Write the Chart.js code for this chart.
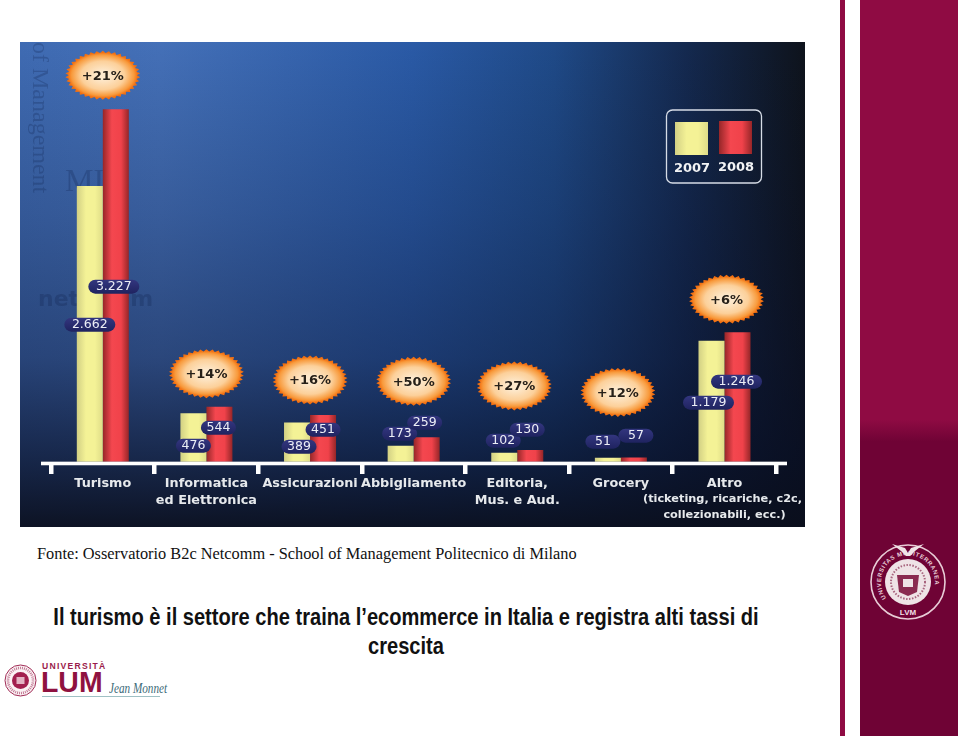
<!DOCTYPE html>
<html>
<head>
<meta charset="utf-8">
<title>Turismo e ecommerce in Italia</title>
<script src="https://cdn.jsdelivr.net/npm/chart.js@4"></script>
<style>
  html, body { margin: 0; padding: 0; background: #fff; }
  body { position: relative; width: 960px; height: 736px; overflow: hidden; }
  #box { position: absolute; left: 20px; top: 42px; width: 785px; height: 485px; }
  #grafico { filter: blur(.4px); }
  .abs { position: absolute; white-space: nowrap; }
  #fonte { left: 37px; top: 544px; font: 16.33px "Liberation Serif", serif; color: #111; }
  #titolo, #titolo2 { left: 0; width: 812px; text-align: center; font: bold 23px "Liberation Sans", sans-serif; color: #111; transform: scaleX(.873); transform-origin: 406px 0; }
  #titolo { top: 604px; }
  #titolo2 { top: 633px; }
  #strip { left: 840px; top: 0; width: 5px; height: 736px; background: #8f0b43; }
  #panel { left: 860px; top: 0; width: 98px; height: 736px; background: linear-gradient(#8f0b43 0, #8f0b43 57%, #6f0335 60%, #6f0335 100%); }
  #univ { left: 42px; top: 661px; font: bold 8.6px "Liberation Sans", sans-serif; letter-spacing: 1.25px; color: #9a1b4b; }
  #lum { left: 41px; top: 666px; font: bold 29px "Liberation Sans", sans-serif; color: #8f1240; transform: scaleX(.98); transform-origin: 0 0; }
  #jean { left: 109px; top: 681px; font: italic 14px "Liberation Serif", serif; color: #3c6a78; transform: scaleX(.8); transform-origin: 0 0; }
  #riga { left: 42px; top: 696px; width: 118px; height: 1px; background: #9fc0c4; }
  svg { position: absolute; overflow: visible; }
</style>
</head>
<body>
<div id="box"><canvas id="grafico" width="785" height="485"></canvas></div>

<div class="abs" id="fonte">Fonte: Osservatorio B2c Netcomm - School of Management Politecnico di Milano</div>
<div class="abs" id="titolo">Il turismo è il settore che traina l’ecommerce in Italia e registra alti tassi di</div>
<div class="abs" id="titolo2">crescita</div>

<div class="abs" id="strip"></div>
<div class="abs" id="panel"></div>

<svg style="left:870px;top:544px" width="76" height="76" viewBox="-38 -38 76 76" font-family="Liberation Sans" font-weight="bold">
  <defs><path id="arcoA" d="M -21 17 A 27 27 0 1 1 21 17"></path></defs>
  <circle r="37" fill="none" stroke="#e8ccd6" stroke-width="1.6"></circle>
  <text font-size="6" fill="#e8ccd6" letter-spacing=".6"><textPath href="#arcoA" startOffset="1%">UNIVERSITAS MEDITERRANEA</textPath></text>
  <text x="0" y="33" font-size="8" fill="#f0dfe5" text-anchor="middle">LVM</text>
  <circle r="23" fill="#efe3e6"></circle>
  <circle r="17" fill="none" stroke="#a8647e" stroke-width="2" stroke-dasharray="1.5 1.5"></circle>
  <path d="M -11 -7 L 11 -7 L 9 10 L 0 14 L -9 10 Z" fill="#8a2a50"></path>
  <rect x="-5" y="-3" width="10" height="8" fill="#efe3e6"></rect>
  <path d="M -16 -38 L -3 -34 L 0 -29 L 3 -34 L 16 -38 L 7 -31 L 2 -26 L -2 -26 L -7 -31 Z" fill="#efe3e6"></path>
</svg>

<svg style="left:4px;top:664px" width="33" height="33" viewBox="-33 -33 66 66" font-family="Liberation Sans" font-weight="bold">
  <circle r="31" fill="#fbf2f4" stroke="#a02a55" stroke-width="2"></circle>
  <circle r="25" fill="none" stroke="#c27a95" stroke-width="5" stroke-dasharray="2 2"></circle>
  <circle r="17" fill="#a21f4e"></circle>
  <rect x="-8" y="-7" width="16" height="14" fill="#e3b3c3"></rect>
</svg>
<div class="abs" id="univ">UNIVERSITÀ</div>
<div class="abs" id="lum">LUM</div>
<div class="abs" id="jean">Jean Monnet</div>
<div class="abs" id="riga"></div>

<script>
var categories = [
  ['Turismo'],
  ['Informatica', 'ed Elettronica'],
  ['Assicurazioni'],
  ['Abbigliamento'],
  ['Editoria,', 'Mus. e Aud.'],
  ['Grocery'],
  ['Altro']
];
var altroNote = ['(ticketing, ricariche, c2c,', 'collezionabili, ecc.)'];
var years = ['2007', '2008'];

// bar heights, whose bars are not quite to scale
// with their printed labels (the 3.227 bar most of all)
var bars2007 = [2703, 474, 385, 157, 88, 39, 1186];
var bars2008 = [3455, 539, 458, 239, 115, 42, 1269];

// printed labels
var labels2007 = ['2.662', '476', '389', '173', '102', '51', '1.179'];
var labels2008 = ['3.227', '544', '451', '259', '130', '57', '1.246'];
var growth = ['+21%', '+14%', '+16%', '+50%', '+27%', '+12%', '+6%'];

// where the pills and bursts sit, px relative to the bars
var pillDx2007 = [0, 0, 2, -1, -1, -5, -3];
var pillDx2008 = [-2, -1, 0, -2, -3, 2, -1];
var pillUp2007 = [137, 16, 15, 28, 21, 20, 59];
var pillUp2008 = [175, 34, 32, 39, 32, 26, 80];
var burstUp = [34, 33, 35, 56, 64, 65, 33];
var burstDx = [0, 0, 0, 0, -3, -3, 2];

var YELLOW = ['#d2d084', '#f4f296', '#f4f296', '#dedc88'];
var RED = ['#962628', '#f4474f', '#f0424a', '#962628'];

function barGradient(g, x0, x1, stops) {
  var lg = g.createLinearGradient(x0, 0, x1, 0);
  lg.addColorStop(0, stops[0]);
  lg.addColorStop(0.35, stops[1]);
  lg.addColorStop(0.7, stops[2]);
  lg.addColorStop(1, stops[3]);
  return lg;
}

function barFill(stops, side) {
  return function (c) {
    var x = c.chart.scales.x ? c.chart.scales.x.getPixelForValue(c.dataIndex) + side * 13 : NaN;
    if (!isFinite(x)) return stops[1];
    return barGradient(c.chart.ctx, x - 13, x + 13, stops);
  };
}

function pill(g, cx, cy, text) {
  var w = text.length > 3 ? 51 : 35, h = 14;
  var lg = g.createLinearGradient(0, cy - h / 2, 0, cy + h / 2);
  lg.addColorStop(0, '#33367f');
  lg.addColorStop(1, '#1f2360');
  g.fillStyle = lg;
  g.beginPath();
  g.roundRect(cx - w / 2, cy - h / 2, w, h, 7);
  g.fill();
  g.fillStyle = '#eceef6';
  g.font = '12.5px "DejaVu Sans"';
  g.textAlign = 'center';
  g.textBaseline = 'middle';
  g.fillText(text, cx, cy + 0.5);
}

function burst(g, cx, cy, text) {
  var n = 38, rx = 37.5, ry = 24.5;
  g.save();
  g.translate(cx, cy);
  g.beginPath();
  for (var i = 0; i < n * 2; i++) {
    var a = i * Math.PI / n, k = i % 2 ? 1 : 0.91;
    g.lineTo(Math.cos(a) * rx * k, Math.sin(a) * ry * k);
  }
  g.closePath();
  g.scale(1, ry / rx);
  var rg = g.createRadialGradient(0, 0, 6, 0, 0, rx);
  rg.addColorStop(0, '#fde9cd');
  rg.addColorStop(0.5, '#fcd09a');
  rg.addColorStop(0.8, '#f89a3c');
  rg.addColorStop(0.92, '#f26f10');
  rg.addColorStop(1, '#f26f10');
  g.fillStyle = rg;
  g.fill();
  g.restore();
  g.fillStyle = '#262019';
  g.font = 'bold 13px "DejaVu Sans"';
  g.textAlign = 'center';
  g.textBaseline = 'middle';
  g.fillText(text, cx, cy + 1);
}

var sfondo = {
  id: 'sfondo',
  beforeDraw: function (chart) {
    var g = chart.ctx, w = chart.width, h = chart.height;
    var hor = g.createLinearGradient(0, 0, w, 0);
    hor.addColorStop(0, '#3f6bb3');
    hor.addColorStop(0.18, '#4470b8');
    hor.addColorStop(0.5, '#2a5aa6');
    hor.addColorStop(0.68, '#1f4a88');
    hor.addColorStop(0.85, '#14294f');
    hor.addColorStop(1, '#0e131c');
    g.fillStyle = hor;
    g.fillRect(0, 0, w, h);
    var ver = g.createLinearGradient(0, 0, 0, h);
    ver.addColorStop(0, 'rgba(8,14,30,0)');
    ver.addColorStop(0.35, 'rgba(8,14,40,0.2)');
    ver.addColorStop(0.65, 'rgba(8,14,40,0.42)');
    ver.addColorStop(0.85, 'rgba(8,14,36,0.72)');
    ver.addColorStop(1, 'rgba(10,14,28,0.95)');
    g.fillStyle = ver;
    g.fillRect(0, 0, w, h);

    // faint watermarks behind the bars
    g.save();
    g.fillStyle = 'rgba(12,30,70,0.24)';
    g.textBaseline = 'alphabetic';
    g.textAlign = 'left';
    g.save();
    g.translate(13, 0);
    g.rotate(Math.PI / 2);
    g.font = '24px "Liberation Serif"';
    g.fillText('of Management', 0, 0);
    g.restore();
    g.font = '32px "Liberation Serif"';
    g.fillText('MI', 45, 149);
    g.font = 'bold 22px "DejaVu Sans"';
    g.fillText('netcomm', 18, 264);
    g.restore();
  },
  afterDatasetsDraw: function (chart) {
    var g = chart.ctx, x = chart.scales.x, y = chart.scales.y, base = y.getPixelForValue(0);
    var i;
    g.save();

    // axis line runs a bit past the first and last tick
    g.fillStyle = '#fff';
    g.fillRect(21, base, 746, 3.6);

    for (i = 0; i < categories.length; i++) {
      var cx = x.getPixelForValue(i);
      pill(g, cx - 13 + pillDx2007[i], base - pillUp2007[i], labels2007[i]);
      pill(g, cx + 13 + pillDx2008[i], base - pillUp2008[i], labels2008[i]);
      burst(g, cx + burstDx[i], y.getPixelForValue(bars2008[i]) - burstUp[i], growth[i]);
    }

    // Altro sub label
    var ax = x.getPixelForValue(6);
    g.fillStyle = '#e6e9ec';
    g.font = 'bold 11.3px "DejaVu Sans"';
    g.textAlign = 'center';
    g.textBaseline = 'middle';
    g.fillText(altroNote[0], ax - 2, 457);
    g.fillText(altroNote[1], ax, 473);

    // legend: swatch above its year
    g.strokeStyle = '#d6dce6';
    g.lineWidth = 1.3;
    g.beginPath();
    g.roundRect(646.5, 68, 95, 73, 6);
    g.stroke();
    g.fillStyle = barGradient(g, 655, 688, YELLOW);
    g.fillRect(655, 80, 33, 33);
    g.fillStyle = barGradient(g, 699, 732, RED);
    g.fillRect(699, 79, 33, 33);
    g.fillStyle = '#f2f3f5';
    g.font = 'bold 13px "DejaVu Sans"';
    g.fillText(years[0], 672, 127);
    g.fillText(years[1], 716, 126);
    g.restore();
  }
};

new Chart(document.getElementById('grafico').getContext('2d'), {
  type: 'bar',
  data: {
    labels: categories,
    datasets: [
      { label: years[0], data: bars2007, backgroundColor: barFill(YELLOW, -1) },
      { label: years[1], data: bars2008, backgroundColor: barFill(RED, 1) }
    ]
  },
  options: {
    responsive: false,
    animation: false,
    layout: { padding: { left: 31, right: 28.7, top: 0, bottom: 0 } },
    categoryPercentage: 0.502,
    barPercentage: 1,
    plugins: { legend: { display: false }, tooltip: { enabled: false } },
    scales: {
      x: {
        afterFit: function (s) { s.height = 63.5; },
        grid: { drawOnChartArea: false, color: '#fff', lineWidth: 4.5, tickLength: 10.5, z: 1 },
        border: { display: false },
        ticks: {
          color: '#e6e9ec',
          font: { family: 'DejaVu Sans', weight: 'bold', size: 12.8, lineHeight: 1.33 },
          maxRotation: 0,
          autoSkip: false,
          padding: 1
        }
      },
      y: { display: false, min: -18, max: 4115, grid: { display: false } }
    }
  },
  plugins: [sfondo]
});
</script>
</body>
</html>
